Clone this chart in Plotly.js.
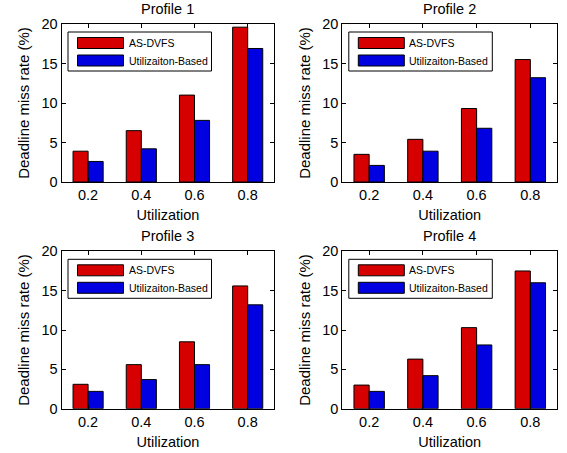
<!DOCTYPE html>
<html>
<head>
<meta charset="utf-8">
<script src="https://cdn.plot.ly/plotly-3.0.1.min.js"></script>
<style>html,body{margin:0;padding:0;background:#fff;}#chart{width:567px;height:453px;}</style>
</head>
<body>
<div id="chart"></div>
<script>
// ---- data ----
const utilization = [0.2, 0.4, 0.6, 0.8];
const tickLabels = ["0.2", "0.4", "0.6", "0.8"];
const profileTitles = ["Profile 1", "Profile 2", "Profile 3", "Profile 4"];
const seriesNames = ["AS-DVFS", "Utilizaiton-Based"];
const asDvfsP1 = [3.9, 6.5, 11.0, 19.6];
const utilP1   = [2.6, 4.2, 7.8, 16.9];
const asDvfsP2 = [3.5, 5.4, 9.3, 15.5];
const utilP2   = [2.1, 3.9, 6.8, 13.2];
const asDvfsP3 = [3.1, 5.6, 8.5, 15.6];
const utilP3   = [2.2, 3.7, 5.6, 13.2];
const asDvfsP4 = [3.0, 6.3, 10.3, 17.5];
const utilP4   = [2.2, 4.2, 8.1, 16.0];
const yTicks = [0, 5, 10, 15, 20];

const asDvfs = [asDvfsP1, asDvfsP2, asDvfsP3, asDvfsP4];
const util = [utilP1, utilP2, utilP3, utilP4];

// ---- layout geometry (pixels) ----
const W = 567, H = 453;
const boxes = [
  {l: 61.5, r: 274.3, t: 24, b: 182},
  {l: 342.3, r: 557.2, t: 24, b: 182},
  {l: 61.5, r: 274.3, t: 251.3, b: 408.7},
  {l: 342.3, r: 557.2, t: 251.3, b: 408.7}
];
const RED = "rgb(215,0,0)", BLUE = "rgb(0,0,225)";
const FONT = "Liberation Sans, Arial, sans-serif";
const px = x => x / W, py = y => 1 - y / H;

const traces = [], shapes = [], annotations = [];
const layout = {
  width: W, height: H,
  margin: {l: 0, r: 0, t: 0, b: 0},
  paper_bgcolor: "#fff", plot_bgcolor: "#fff",
  barmode: "group", bargap: 0.434, bargroupgap: 0,
  showlegend: false,
  font: {family: FONT, color: "#000", size: 14.5}
};

boxes.forEach((bx, i) => {
  const n = i + 1;
  const xa = "x" + (n === 1 ? "" : n), ya = "y" + (n === 1 ? "" : n);
  [asDvfs[i], util[i]].forEach((vals, k) => {
    traces.push({
      type: "bar", x: utilization, y: vals, name: seriesNames[k],
      xaxis: xa, yaxis: ya,
      marker: {color: k === 0 ? RED : BLUE, line: {color: "#000", width: 1}},
      hoverinfo: "x+y+name"
    });
  });
  layout["xaxis" + (n === 1 ? "" : n)] = {
    domain: [px(bx.l), px(bx.r)], anchor: ya,
    range: [0.1, 0.9], tickvals: utilization, ticktext: tickLabels,
    ticks: "inside", ticklen: 4, tickcolor: "#000",
    showline: true, linecolor: "#000", linewidth: 1, mirror: "ticks",
    showgrid: false, zeroline: false,
    tickfont: {size: 14.5, family: FONT, color: "#000"},
    title: {text: "Utilization", font: {size: 14.5, family: FONT, color: "#000"}, standoff: 7}
  };
  layout["yaxis" + (n === 1 ? "" : n)] = {
    domain: [py(bx.b), py(bx.t)], anchor: xa,
    range: [0, 20], tickvals: yTicks,
    ticks: "inside", ticklen: 4, tickcolor: "#000",
    showline: true, linecolor: "#000", linewidth: 1, mirror: "ticks",
    showgrid: false, zeroline: false,
    tickfont: {size: 14.5, family: FONT, color: "#000"},
    title: {text: "Deadline miss rate (%)", font: {size: 15, family: FONT, color: "#000"}, standoff: 8}
  };
  // subplot title
  annotations.push({
    text: profileTitles[i], xref: "paper", yref: "paper",
    x: px((bx.l + bx.r) / 2), y: py(bx.t - 15), xanchor: "center", yanchor: "middle",
    showarrow: false, font: {size: 14.5, family: FONT, color: "#000"}
  });
  // legend box
  shapes.push({type: "rect", xref: "paper", yref: "paper",
    x0: px(bx.l + 6.5), x1: px(bx.l + 150), y0: py(bx.t + 8), y1: py(bx.t + 47),
    line: {color: "#000", width: 1}, fillcolor: "#fff"});
  [[13.5, 24.5, RED, 19], [31, 42, BLUE, 36.5]].forEach((s, k) => {
    shapes.push({type: "rect", xref: "paper", yref: "paper",
      x0: px(bx.l + 16), x1: px(bx.l + 62), y0: py(bx.t + s[0]), y1: py(bx.t + s[1]),
      line: {color: "#000", width: 1}, fillcolor: s[2]});
    annotations.push({
      text: seriesNames[k], xref: "paper", yref: "paper",
      x: px(bx.l + 65), y: py(bx.t + s[3]), xanchor: "left", yanchor: "middle",
      showarrow: false, font: {size: 10.5, family: FONT, color: "#000"}
    });
  });
});
layout.shapes = shapes;
layout.annotations = annotations;

Plotly.newPlot("chart", traces, layout, {displayModeBar: false, staticPlot: true});
</script>
</body>
</html>
